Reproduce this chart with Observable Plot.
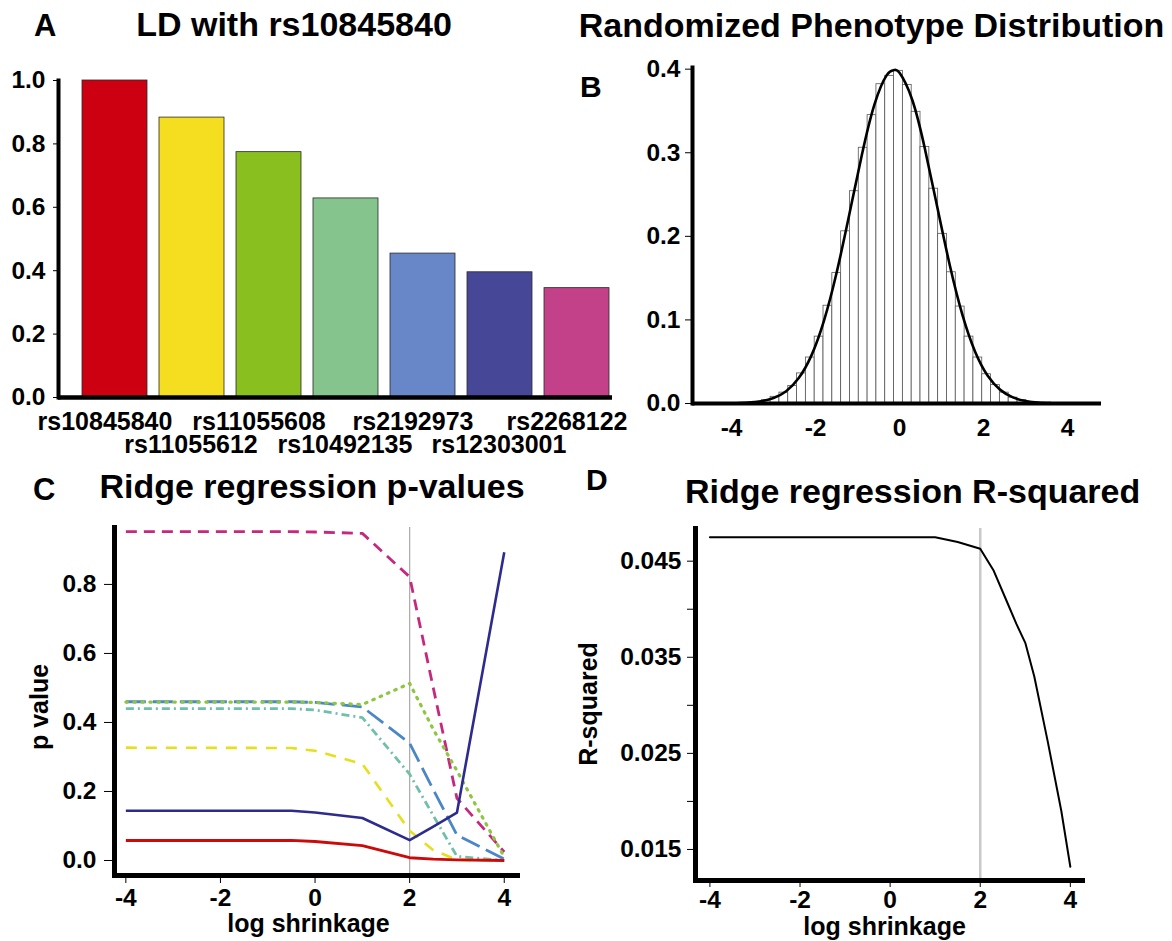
<!DOCTYPE html>
<html><head><meta charset="utf-8">
<script src="https://cdn.jsdelivr.net/npm/d3@7"></script>
<script src="https://cdn.jsdelivr.net/npm/@observablehq/plot@0.6"></script>
<style>
html,body{margin:0;padding:0;background:#fff;}
#root{position:relative;width:1172px;height:941px;overflow:hidden;font-family:"Liberation Sans",Arial,sans-serif;font-weight:bold;color:#000;}
.t{position:absolute;white-space:nowrap;line-height:1;}
.panel{position:absolute;}
</style></head><body><div id="root"></div>
<script>
// ---------- Panel A data ----------
const snps = ["rs10845840","rs11055612","rs11055608","rs10492135","rs2192973","rs12303001","rs2268122"];
const ldValues = [1.0, 0.883, 0.774, 0.628, 0.454, 0.395, 0.345];
const ldColors = ["#CC0010","#F5DD1F","#89BF1E","#86C48D","#6787C9","#464897","#C24189"];
const ldTicks = [0, 0.2, 0.4, 0.6, 0.8, 1.0];

// ---------- Panel B data ----------
const binLeft  = [-3.49,-3.28,-3.07,-2.86,-2.65,-2.44,-2.23,-2.02,-1.81,-1.60,-1.39,-1.18,-0.97,-0.76,-0.55,-0.34,-0.13,0.08,0.29,0.50,0.71,0.92,1.13,1.34,1.55,1.76,1.97,2.18,2.39,2.60,2.81,3.02];
const binRight = [-3.28,-3.07,-2.86,-2.65,-2.44,-2.23,-2.02,-1.81,-1.60,-1.39,-1.18,-0.97,-0.76,-0.55,-0.34,-0.13,0.08,0.29,0.50,0.71,0.92,1.13,1.34,1.55,1.76,1.97,2.18,2.39,2.60,2.81,3.02,3.23];
const binDensity = [0.002,0.004,0.008,0.013,0.021,0.036,0.055,0.080,0.117,0.156,0.206,0.254,0.306,0.345,0.382,0.392,0.398,0.381,0.349,0.307,0.257,0.203,0.157,0.116,0.080,0.055,0.035,0.022,0.013,0.007,0.004,0.002];
const curveX = [-3.9,-3.6,-3.3,-3.0,-2.7,-2.4,-2.1,-1.8,-1.5,-1.2,-0.9,-0.6,-0.3,-0.13,0.0,0.3,0.6,0.9,1.2,1.5,1.8,2.1,2.4,2.7,3.0,3.3,3.6];
const curveY = [0.0003,0.001,0.0026,0.0065,0.0147,0.0304,0.0573,0.0989,0.1561,0.2251,0.2966,0.3573,0.3932,0.3989,0.3956,0.3637,0.3057,0.2348,0.1648,0.1057,0.0620,0.0332,0.0163,0.0073,0.0030,0.0011,0.0004];
const bTicksY = [0, 0.1, 0.2, 0.3, 0.4];
const shrinkTicks = [-4, -2, 0, 2, 4];

// ---------- Panel C data ----------
const cX = [-4, -0.5, 0, 1, 2, 2.5, 3, 4];
const pMagenta = [0.953, 0.953, 0.952, 0.948, 0.822, 0.50, 0.18, 0.025];
const pBlue    = [0.460, 0.460, 0.458, 0.445, 0.340, 0.205, 0.074, 0.004];
const pGreen   = [0.459, 0.459, 0.458, 0.452, 0.513, 0.380, 0.260, 0.010];
const pTeal    = [0.440, 0.440, 0.436, 0.414, 0.250, 0.130, 0.012, 0.000];
const pYellow  = [0.327, 0.326, 0.318, 0.280, 0.086, 0.030, 0.002, 0.000];
const pNavy    = [0.144, 0.144, 0.139, 0.123, 0.059, 0.098, 0.139, 0.893];
const pRed     = [0.058, 0.058, 0.055, 0.043, 0.008, 0.004, 0.002, 0.000];
const cTicksY = [0, 0.2, 0.4, 0.6, 0.8];

// ---------- Panel D data ----------
const dX  = [-4, 1, 1.5, 2, 2.3, 2.6, 2.8, 3.0, 3.2, 3.5, 3.8, 4];
const dR2 = [0.0475, 0.0475, 0.0470, 0.0463, 0.0440, 0.0407, 0.0385, 0.0365, 0.0330, 0.0262, 0.0190, 0.0132];
const dTicksMajor = [0.015, 0.025, 0.035, 0.045];
const dTicksMinor = [0.02, 0.03, 0.04];

// ---------- helpers ----------
const root = document.getElementById("root");
const FONT = "'Liberation Sans', Arial, sans-serif";
const baseStyle = {fontFamily: FONT, fontWeight: "bold", color: "black", background: "transparent", overflow: "visible"};
const TICKFS = 24.5;

function addText(str, x, baseline, size, anchor) {
  const d = document.createElement("div");
  d.className = "t";
  d.textContent = str;
  d.style.fontSize = size + "px";
  d.style.left = x + "px";
  d.style.top = (baseline - 0.8465 * size) + "px";
  if (anchor === "middle") d.style.transform = "translateX(-50%)";
  root.appendChild(d);
}
function addRotText(str, baselineX, cy, size) {
  const d = document.createElement("div");
  d.className = "t";
  d.textContent = str;
  d.style.fontSize = size + "px";
  d.style.left = (baselineX - 0.3465 * size) + "px";
  d.style.top = cy + "px";
  d.style.transform = "translate(-50%,-50%) rotate(-90deg)";
  root.appendChild(d);
}
function place(svg, left, top) {
  const w = document.createElement("div");
  w.className = "panel";
  w.style.left = left + "px";
  w.style.top = top + "px";
  w.appendChild(svg);
  root.appendChild(w);
}
const fmtInt = d => String(d);

// ---------- Panel A ----------
const ldData = snps.map((s, i) => ({snp: s, r2: ldValues[i], color: ldColors[i], row: i % 2}));
const plotA = Plot.plot({
  width: 640, height: 410, marginLeft: 58, marginRight: 28, marginTop: 30, marginBottom: 63,
  style: baseStyle,
  x: {domain: snps, range: [80, 612], paddingInner: 0.152, paddingOuter: 0, axis: null},
  y: {domain: [0, 1], axis: null},
  color: {type: "identity"},
  marks: [
    Plot.barY(ldData, {x: "snp", y: "r2", fill: "color", stroke: "#2a2a2a", strokeWidth: 0.8}),
    Plot.axisY({ticks: ldTicks, tickFormat: d3.format(".1f"), tickSize: 5, tickPadding: 8, fontSize: TICKFS, fontWeight: "bold", label: null}),
    Plot.frame({anchor: "left", strokeWidth: 4}),
    Plot.ruleY([0], {strokeWidth: 4.5}),
    Plot.text(ldData.filter(d => d.row === 0), {x: "snp", y: 0, text: "snp", dy: 24, dx: -10, fontSize: 25, fontWeight: "bold"}),
    Plot.text(ldData.filter(d => d.row === 1), {x: "snp", y: 0, text: "snp", dy: 47, dx: -1, fontSize: 25, fontWeight: "bold"})
  ]
});
place(plotA, 0, 50);

// ---------- Panel B ----------
const hist = binLeft.map((l, i) => ({x1: l, x2: binRight[i], d: binDensity[i]}));
const curve = curveX.map((x, i) => ({x, y: curveY[i]}));
const plotB = Plot.plot({
  width: 592, height: 400, marginLeft: 112, marginRight: 71, marginTop: 17, marginBottom: 47,
  style: baseStyle,
  x: {domain: [-4.93, 4.81], axis: null},
  y: {domain: [0, 0.402], axis: null},
  marks: [
    Plot.rectY(hist, {x1: "x1", x2: "x2", y: "d", fill: "white", stroke: "#555", strokeWidth: 0.8}),
    Plot.line(curve, {x: "x", y: "y", curve: "natural", stroke: "black", strokeWidth: 2.6}),
    Plot.axisY({ticks: bTicksY, tickFormat: d3.format(".1f"), tickSize: 7, tickPadding: 5, fontSize: TICKFS, fontWeight: "bold", label: null}),
    Plot.axisX({ticks: shrinkTicks, tickFormat: fmtInt, tickSize: 0, tickPadding: 15, fontSize: TICKFS, fontWeight: "bold", label: null}),
    Plot.frame({anchor: "left", strokeWidth: 4}),
    Plot.ruleY([0], {strokeWidth: 4})
  ]
});
place(plotB, 580, 50);

// ---------- Panel C ----------
const cSeries = [
  {v: pMagenta, stroke: "#C6287E", dash: "11,7", w: 2.8, cap: "butt"},
  {v: pBlue,    stroke: "#4A86C8", dash: "20,7", w: 2.8, cap: "butt"},
  {v: pGreen,   stroke: "#8DC63F", dash: "1.5,6.5", w: 3.2, cap: "round"},
  {v: pTeal,    stroke: "#6FBFAA", dash: "8,4,2,4", w: 2.8, cap: "butt"},
  {v: pYellow,  stroke: "#E6DF1E", dash: "11,9", w: 2.6, cap: "butt"},
  {v: pNavy,    stroke: "#2E2B8E", dash: null, w: 2.6, cap: "butt"},
  {v: pRed,     stroke: "#CC0A0A", dash: null, w: 2.8, cap: "butt"}
];
const plotC = Plot.plot({
  width: 580, height: 471, marginLeft: 114, marginRight: 63, marginTop: 57, marginBottom: 66,
  style: baseStyle,
  x: {domain: [-4.24, 4.28], axis: null},
  y: {domain: [-0.0435, 0.965], axis: null},
  marks: [
    Plot.ruleX([2], {stroke: "#aaa", strokeWidth: 1.2}),
    ...cSeries.map(s => Plot.line(cX.map((x, i) => ({x, y: s.v[i]})), {
      x: "x", y: "y", stroke: s.stroke, strokeWidth: s.w,
      strokeDasharray: s.dash || undefined, strokeLinecap: s.cap
    })),
    Plot.axisY({ticks: cTicksY, tickFormat: d3.format(".1f"), tickSize: 10, tickPadding: 8, fontSize: TICKFS, fontWeight: "bold", label: null}),
    Plot.axisX({ticks: shrinkTicks, tickFormat: fmtInt, tickSize: 8, tickPadding: 5, fontSize: TICKFS, fontWeight: "bold", label: null}),
    Plot.frame({anchor: "left", strokeWidth: 5}),
    Plot.frame({anchor: "bottom", strokeWidth: 5})
  ]
});
place(plotC, 0, 470);

// ---------- Panel D ----------
const dData = dX.map((x, i) => ({x, y: dR2[i]}));
const plotD = Plot.plot({
  width: 592, height: 471, marginLeft: 115, marginRight: 90, marginTop: 58, marginBottom: 61,
  style: baseStyle,
  x: {domain: [-4.32, 4.27], axis: null},
  y: {domain: [0.01177, 0.0484], axis: null},
  marks: [
    Plot.ruleX([2], {stroke: "#c8c8c8", strokeWidth: 2.5}),
    Plot.line(dData, {x: "x", y: "y", stroke: "black", strokeWidth: 2}),
    Plot.axisY({ticks: dTicksMajor, tickFormat: d3.format(".3f"), tickSize: 8, tickPadding: 6, fontSize: TICKFS, fontWeight: "bold", label: null}),
    Plot.axisY({ticks: dTicksMinor, tickFormat: () => "", tickSize: 8, label: null}),
    Plot.axisX({ticks: shrinkTicks, tickFormat: fmtInt, tickSize: 7, tickPadding: 3, fontSize: TICKFS, fontWeight: "bold", label: null}),
    Plot.frame({anchor: "left", strokeWidth: 5}),
    Plot.frame({anchor: "bottom", strokeWidth: 5})
  ]
});
place(plotD, 580, 470);

// ---------- Titles and labels ----------
addText("A", 34, 36, 31, "start");
addText("LD with rs10845840", 294, 36, 34, "middle");
addText("Randomized Phenotype Distribution", 871.5, 37, 34, "middle");
addText("B", 580, 97, 30, "start");
addText("C", 33, 500, 31, "start");
addText("Ridge regression p-values", 312, 498, 34, "middle");
addText("D", 586, 490, 30, "start");
addText("Ridge regression R-squared", 912.6, 503, 34, "middle");
addRotText("p value", 48, 707, 25);
addText("log shrinkage", 308.5, 932, 25, "middle");
addRotText("R-squared", 597, 704, 25);
addText("log shrinkage", 884.6, 935.5, 25, "middle");
</script></body></html>
